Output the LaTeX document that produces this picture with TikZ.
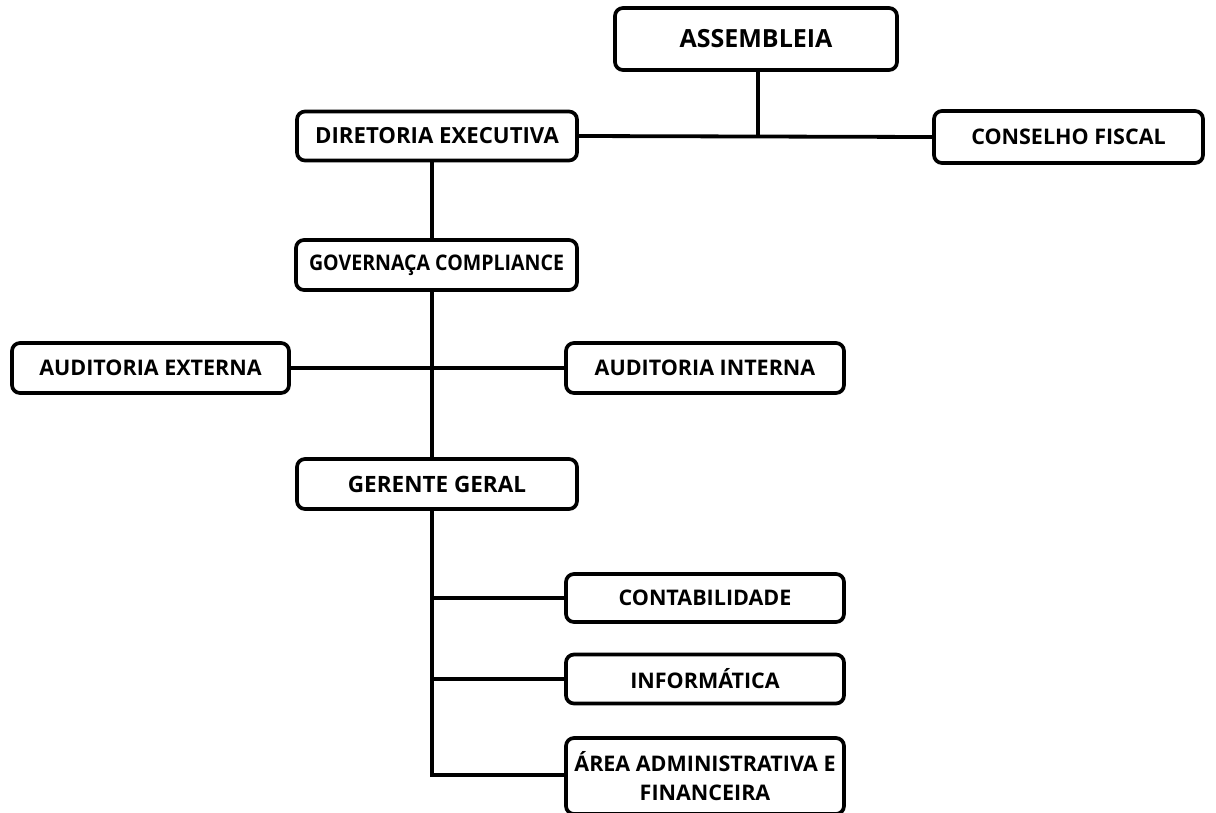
\documentclass[tikz,border=0pt]{standalone}
\usepackage{fontspec}
\setmainfont{Open Sans}
\newfontfamily\narrowsans[FakeStretch=0.91]{Open Sans}
\begin{document}
\begin{tikzpicture}[x=1pt,y=-1pt,
  box/.style={draw=black,line width=3.7pt,rounded corners=8pt,fill=white,
    inner sep=0pt,align=center,font=\bfseries\fontsize{21.5}{29}\selectfont},
  link/.style={line width=3.8pt,black}]
\useasboundingbox (0,0) rectangle (1216,812);
% nodes
\node[box,minimum width=282pt,minimum height=62pt,font=\bfseries\fontsize{25}{30}\selectfont] (asm) at (756,39) {ASSEMBLEIA};
\node[box,minimum width=280pt,minimum height=49pt,font=\bfseries\fontsize{22.2}{29}\selectfont] (dir) at (437,136) {DIRETORIA EXECUTIVA};
\node[box,minimum width=269pt,minimum height=52pt] (cf) at (1068.5,137) {CONSELHO FISCAL};
\node[box,minimum width=281pt,minimum height=50pt,font=\narrowsans\bfseries\fontsize{21.5}{29}\selectfont] (gov) at (436.5,265) {GOVERNAÇA COMPLIANCE};
\node[box,minimum width=277pt,minimum height=50pt] (ae) at (150.5,368) {AUDITORIA EXTERNA};
\node[box,minimum width=278pt,minimum height=50pt] (ai) at (705,368) {AUDITORIA INTERNA};
\node[box,minimum width=280pt,minimum height=50pt,font=\bfseries\fontsize{22.5}{29}\selectfont] (gg) at (437,484) {GERENTE GERAL};
\node[box,minimum width=278pt,minimum height=48pt] (ct) at (705,598) {CONTABILIDADE};
\node[box,minimum width=278pt,minimum height=49pt] (inf) at (705,679) {INFORMÁTICA};
\node[box,minimum width=278pt,minimum height=76pt] (ar) at (705,776) {ÁREA ADMINISTRATIVA E\\FINANCEIRA};
% junctions
\coordinate (j1) at (758,137);
\coordinate (t1) at (432,0);
\coordinate (bot) at (432,775);
% connectors
\draw[link] (dir.east) -- (cf.west);
\draw[link] (asm.south -| j1) -- (j1);
\draw[link] (dir.south -| t1) -- (gov.north -| t1);
\draw[link] (ae.east) -- (ai.west);
\draw[link] (gov.south -| t1) -- (gg.north -| t1);
\draw[link] (gg.south -| t1) -- (bot) -- (ar.west |- bot);
\draw[link] (ct.west) -- (ct.west -| t1);
\draw[link] (inf.west) -- (inf.west -| t1);
\end{tikzpicture}
\end{document}
